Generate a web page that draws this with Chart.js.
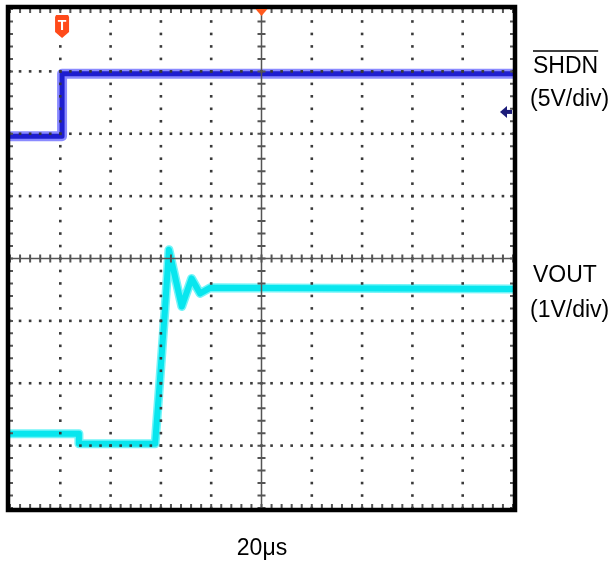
<!DOCTYPE html>
<html lang="en">

<head>
    <meta charset="UTF-8">
    <title>SHDN / VOUT scope capture</title>
    <style>
        body {
            margin: 0;
            background: #fff;
        }

        .wrap {
            width: 613px;
            height: 565px;
        }
    </style>
</head>

<body>
    <div class="wrap">
        <canvas id="scope" width="613" height="565"></canvas>
    </div>

    <script src="https://cdn.jsdelivr.net/npm/chart.js"></script>
    <script>
        // time in µs (20µs/div, 10 div), levels in screen divisions (-4..4)
        const shdnTime = [0, 20.7, 20.7, 200];
        const shdnLevel = [1.96, 1.96, 2.96, 2.96];

        const voutTime = [0, 27.4, 27.4, 57.7, 59.6, 61.6, 63.2, 68.3, 72.2, 75.6, 79.5, 200];
        const voutLevel = [-2.81, -2.81, -2.97, -2.97, -1.95, -0.83, 0.14, -0.77, -0.32, -0.56, -0.47, -0.49];

        const triggerTime = 20.7;   // 'T' marker
        const xTicks = [0, 20, 40, 60, 80, 100, 120, 140, 160, 180, 200];
        const yTicks = [-4, -3, -2, -1, 0, 1, 2, 3, 4];

        const toPoints = (xs, ys) => xs.map((x, i) => ({ x: x, y: ys[i] }));

        // graticule, frame, markers and side labels
        const scopePlugin = {
            id: 'scope',
            afterDatasetsDraw(chart) {
                const ctx = chart.ctx;
                const a = chart.chartArea;
                const sx = chart.scales.x;
                const sy = chart.scales.y;
                ctx.save();

                // dotted major lines
                ctx.fillStyle = '#3a3a3a';
                xTicks.forEach(t => {
                    if (t === 0 || t === 100 || t === 200) return;
                    const px = sx.getPixelForValue(t);
                    for (let j = 0; j <= 40; j++) {
                        const py = sy.getPixelForValue(-4 + j * 0.2);
                        ctx.fillRect(px - 1.3, py - 1.3, 2.6, 2.6);
                    }
                });
                yTicks.forEach(v => {
                    if (v === 0 || v === 4 || v === -4) return;
                    const py = sy.getPixelForValue(v);
                    for (let j = 0; j <= 50; j++) {
                        const px = sx.getPixelForValue(j * 4);
                        ctx.fillRect(px - 1.3, py - 1.3, 2.6, 2.6);
                    }
                });

                // center axes with minor ticks
                const cx = sx.getPixelForValue(100);
                const cy = sy.getPixelForValue(0);
                ctx.strokeStyle = '#555';
                ctx.lineWidth = 1.5;
                ctx.beginPath();
                ctx.moveTo(a.left, cy);
                ctx.lineTo(a.right, cy);
                ctx.moveTo(cx, a.top);
                ctx.lineTo(cx, a.bottom);
                ctx.stroke();

                ctx.lineWidth = 2;
                ctx.beginPath();
                for (let j = 0; j <= 50; j++) {
                    const px = sx.getPixelForValue(j * 4);
                    ctx.moveTo(px, cy - 4);
                    ctx.lineTo(px, cy + 4);
                    ctx.moveTo(px, a.top);
                    ctx.lineTo(px, a.top + 4);
                    ctx.moveTo(px, a.bottom - 4);
                    ctx.lineTo(px, a.bottom);
                }
                for (let j = 0; j <= 40; j++) {
                    const py = sy.getPixelForValue(-4 + j * 0.2);
                    ctx.moveTo(cx - 4, py);
                    ctx.lineTo(cx + 4, py);
                    ctx.moveTo(a.left, py);
                    ctx.lineTo(a.left + 3, py);
                    ctx.moveTo(a.right - 3, py);
                    ctx.lineTo(a.right, py);
                }
                ctx.stroke();

                // frame
                ctx.strokeStyle = '#000';
                ctx.lineWidth = 4.5;
                ctx.strokeRect(a.left - 2, a.top - 2, a.right - a.left + 4, a.bottom - a.top + 4);

                // trigger position (top center)
                ctx.fillStyle = '#ff5a1e';
                ctx.beginPath();
                ctx.moveTo(cx - 6, a.top);
                ctx.lineTo(cx + 6, a.top);
                ctx.lineTo(cx, a.top + 7);
                ctx.closePath();
                ctx.fill();

                // 'T' marker
                const tx = sx.getPixelForValue(triggerTime);
                ctx.fillStyle = '#ff4a1a';
                ctx.beginPath();
                ctx.moveTo(tx - 6, a.top + 6);
                ctx.lineTo(tx + 6, a.top + 6);
                ctx.lineTo(tx + 7, a.top + 8);
                ctx.lineTo(tx + 7, a.top + 23);
                ctx.lineTo(tx, a.top + 29);
                ctx.lineTo(tx - 7, a.top + 23);
                ctx.lineTo(tx - 7, a.top + 8);
                ctx.closePath();
                ctx.fill();
                ctx.fillStyle = '#fff';
                ctx.font = 'bold 14px "Liberation Sans", Arial, sans-serif';
                ctx.textAlign = 'center';
                ctx.textBaseline = 'middle';
                ctx.fillText('T', tx, a.top + 17);

                // SHDN ground reference arrow (right edge)
                const ay = sy.getPixelForValue(2.35);
                ctx.fillStyle = '#1c1c7a';
                ctx.beginPath();
                ctx.moveTo(a.right - 13, ay);
                ctx.lineTo(a.right - 6, ay - 6);
                ctx.lineTo(a.right - 6, ay + 6);
                ctx.closePath();
                ctx.fill();
                ctx.fillRect(a.right - 7, ay - 2, 6, 4);

                ctx.restore();
            },
            afterDraw(chart) {
                const ctx = chart.ctx;
                ctx.save();
                ctx.fillStyle = '#000';
                ctx.font = '23px "Liberation Sans", Arial, sans-serif';
                ctx.textAlign = 'left';
                ctx.textBaseline = 'alphabetic';
                ctx.fillText('SHDN', 533, 73);
                const w = ctx.measureText('SHDN').width;
                ctx.strokeStyle = '#000';
                ctx.lineWidth = 1.5;
                ctx.beginPath();
                ctx.moveTo(533, 51);
                ctx.lineTo(533 + w, 51);
                ctx.stroke();
                ctx.fillText('(5V/div)', 530, 106);
                ctx.fillText('VOUT', 533, 282);
                ctx.fillText('(1V/div)', 530, 317);
                ctx.textAlign = 'center';
                ctx.fillText('20\u03bcs', 262, 555);
                ctx.restore();
            }
        };

        const ctx = document.getElementById('scope').getContext('2d');
        const scopeChart = new Chart(ctx, {
            type: 'line',
            data: {
                datasets: [
                    {
                        label: 'SHDN',
                        data: toPoints(shdnTime, shdnLevel),
                        borderColor: '#1e1ecf',
                        borderWidth: 5,
                        order: 1
                    },
                    {
                        label: 'SHDN noise',
                        data: toPoints(shdnTime, shdnLevel),
                        borderColor: 'rgba(110, 110, 255, 0.8)',
                        borderWidth: 10,
                        order: 3
                    },
                    {
                        label: 'VOUT',
                        data: toPoints(voutTime, voutLevel),
                        borderColor: '#08e6ee',
                        borderWidth: 6,
                        order: 2
                    },
                    {
                        label: 'VOUT noise',
                        data: toPoints(voutTime, voutLevel),
                        borderColor: 'rgba(70, 240, 245, 0.75)',
                        borderWidth: 9,
                        order: 4
                    }
                ]
            },
            options: {
                responsive: false,
                animation: false,
                layout: {
                    padding: { left: 10, top: 9, right: 100, bottom: 57 }
                },
                elements: {
                    point: { radius: 0 },
                    line: { tension: 0, borderJoinStyle: 'round', fill: false }
                },
                scales: {
                    x: { type: 'linear', min: 0, max: 200, display: false },
                    y: { type: 'linear', min: -4, max: 4, display: false }
                },
                plugins: {
                    legend: { display: false },
                    tooltip: { enabled: false }
                }
            },
            plugins: [scopePlugin]
        });
    </script>
</body>

</html>
